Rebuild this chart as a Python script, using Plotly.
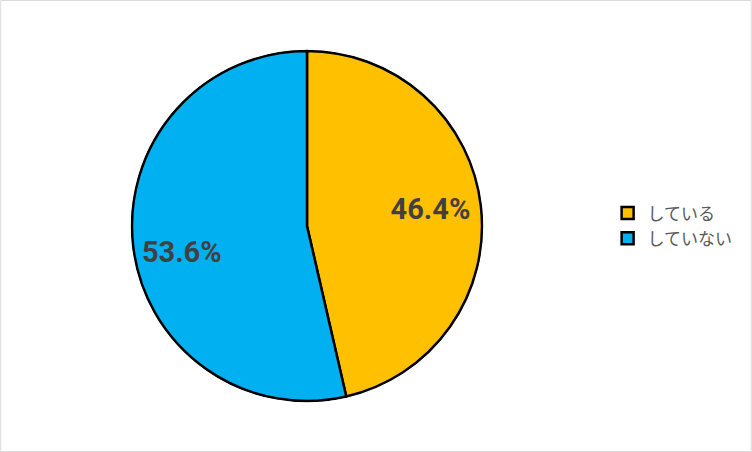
import plotly.graph_objects as go

labels = ["している", "していない"]
values = [46.4, 53.6]
colors = ["#FFC000", "#00B0F0"]

W, H = 752, 452
# radial axis reaches slightly past the slices so the outline is not clipped
R_MAX = 1.01
cx, cy, rad = 307, 226, 175 * R_MAX
pie_domain = dict(
    x=[(cx - rad) / W, (cx + rad) / W],
    y=[(H - cy - rad) / H, (H - cy + rad) / H],
)

# slice spans and mid angles (degrees clockwise from 12 o'clock)
total = sum(values)
spans = [v / total * 360 for v in values]
mid_angles = []
start = 0.0
for s in spans:
    mid_angles.append(start + s / 2)
    start += s
pct_text = [f"{v / total * 100:.1f}%" for v in values]

fig = go.Figure()

for lab, th, sp, col in zip(labels, mid_angles, spans, colors):
    fig.add_trace(
        go.Barpolar(
            r=[1],
            theta=[th],
            width=[sp],
            base=0,
            name=lab,
            marker=dict(color=col, line=dict(color="#000000", width=2.5)),
            hoverinfo="skip",
        )
    )

fig.add_trace(
    go.Scatterpolar(
        r=[0.71, 0.72],
        theta=mid_angles,
        mode="text",
        text=pct_text,
        textposition=["middle center", "bottom center"],
        textfont=dict(family="Roboto", size=29, color="#404040", weight="bold"),
        showlegend=False,
        hoverinfo="skip",
    )
)

fig.update_layout(
    width=W,
    height=H,
    margin=dict(l=0, r=0, t=0, b=0),
    paper_bgcolor="white",
    plot_bgcolor="white",
    showlegend=True,
    polar=dict(
        domain=pie_domain,
        bgcolor="rgba(0,0,0,0)",
        bargap=0,
        radialaxis=dict(visible=False, range=[0, R_MAX]),
        angularaxis=dict(visible=False, rotation=90, direction="clockwise"),
    ),
    legend=dict(
        x=0.808,
        y=0.5,
        xanchor="left",
        yanchor="middle",
        font=dict(family="Noto Sans CJK JP", size=17, color="#595959"),
        itemwidth=30,
    ),
    shapes=[
        dict(
            type="rect",
            xref="paper",
            yref="paper",
            x0=0.001,
            y0=0.001,
            x1=0.999,
            y1=0.999,
            line=dict(color="#D9D9D9", width=1),
        )
    ],
)

fig.write_html(
    "out.html",
    config={"displayModeBar": False},
    post_script="document.body.style.margin='0';",
)
